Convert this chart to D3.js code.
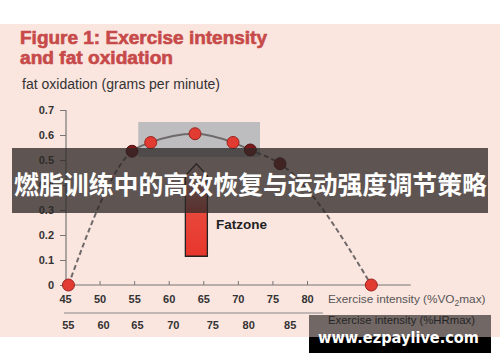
<!DOCTYPE html>
<html>
<head>
<meta charset="utf-8">
<script src="https://cdn.jsdelivr.net/npm/d3@7"></script>
<style>
  body { margin: 0; background: #fff; }
  svg { display: block; }
</style>
</head>
<body>
<svg width="500" height="362"></svg>
<script>
// values
const vo2 = [45.5, 54.7, 57.4, 63.8, 69.3, 71.8, 76.1, 89.3];
const fatOx = [0, 0.535, 0.57, 0.605, 0.57, 0.54, 0.485, 0];
const darkPoint = [false, true, false, false, false, true, true, false];
const yTicks = [0, 0.1, 0.2, 0.3, 0.4, 0.5, 0.6, 0.7];
const xTicks = [45, 50, 55, 60, 65, 70, 75, 80];
const hrTicks = [55, 60, 65, 70, 75, 80, 85];
const hrAsVo2 = [45.4, 50.5, 55.4, 60.6, 66.3, 71.5, 77.5];
const zoneVo2 = [55.6, 73.2];
const zoneFat = [0.512, 0.652];
const arrowVo2 = 64.0;
const arrowFat = [0.115, 0.485];

const svg = d3.select("svg");
const font = "'Liberation Sans', Arial, sans-serif";

const x = d3.scaleLinear().domain([45, 80]).range([65, 307]);
const y = d3.scaleLinear().domain([0, 0.7]).range([285, 110]);
const hr = d3.scaleLinear().domain(hrTicks).range(hrAsVo2.map(x));

// background
svg.append("rect").attr("x", 0).attr("y", 24).attr("width", 500).attr("height", 313).attr("fill", "#fbe5df");

// title
svg.append("text").attr("x", 20).attr("y", 44).attr("font-family", font).attr("font-weight", "bold")
  .attr("font-size", 18).attr("fill", "#c64a49").attr("stroke", "#c64a49").attr("stroke-width", 0.6)
  .attr("textLength", 247).attr("lengthAdjust", "spacingAndGlyphs")
  .text("Figure 1: Exercise intensity");
svg.append("text").attr("x", 20).attr("y", 64).attr("font-family", font).attr("font-weight", "bold")
  .attr("font-size", 18).attr("fill", "#c64a49").attr("stroke", "#c64a49").attr("stroke-width", 0.6)
  .attr("textLength", 153).attr("lengthAdjust", "spacingAndGlyphs")
  .text("and fat oxidation");
svg.append("text").attr("x", 22).attr("y", 89).attr("font-family", font)
  .attr("font-size", 14).attr("fill", "#333").attr("textLength", 198).attr("lengthAdjust", "spacingAndGlyphs")
  .text("fat oxidation (grams per minute)");

// fat zone box
svg.append("rect")
  .attr("x", x(zoneVo2[0])).attr("y", y(zoneFat[1]))
  .attr("width", x(zoneVo2[1]) - x(zoneVo2[0])).attr("height", y(zoneFat[0]) - y(zoneFat[1]))
  .attr("fill", "#bdbcbf");

// y axis
const yAxis = svg.append("g").attr("transform", `translate(${x(45) + 1},0)`)
  .call(d3.axisLeft(y).tickValues(yTicks).tickSize(6).tickPadding(6)
    .tickFormat(d => d === 0 ? "0" : d3.format(".1f")(d)));
yAxis.select(".domain").remove();
yAxis.selectAll("line").attr("stroke", "#777");
yAxis.selectAll("text").attr("font-family", font).attr("font-weight", "bold").attr("font-size", 11).attr("fill", "#333");
svg.append("line").attr("x1", x(45) + 1).attr("x2", x(45) + 1).attr("y1", y(0.7)).attr("y2", y(0))
  .attr("stroke", "#777").attr("stroke-width", 1.2);

// x axis (VO2max)
const xAxis = svg.append("g").attr("transform", `translate(0,${y(0)})`)
  .call(d3.axisBottom(x).tickValues(xTicks).tickSize(-4).tickPadding(10));
xAxis.select(".domain").remove();
xAxis.selectAll("line").attr("stroke", "#777");
xAxis.selectAll("text").attr("font-family", font).attr("font-weight", "bold").attr("font-size", 11).attr("fill", "#333");
svg.append("line").attr("x1", x(45)).attr("x2", x(95)).attr("y1", y(0)).attr("y2", y(0))
  .attr("stroke", "#777").attr("stroke-width", 1.2);

const vo2Label = svg.append("text").attr("x", 328).attr("y", 303).attr("font-family", font)
  .attr("font-size", 11.8).attr("fill", "#555");
vo2Label.append("tspan").text("Exercise intensity (%VO");
vo2Label.append("tspan").attr("font-size", 8.5).attr("dy", 3).text("2");
vo2Label.append("tspan").attr("dy", -3).text("max)");

// second axis (HRmax)
svg.append("line").attr("x1", x(44.86)).attr("x2", x(82.3)).attr("y1", 313).attr("y2", 313)
  .attr("stroke", "#888").attr("stroke-width", 1.2);
const hrAxis = svg.append("g").attr("transform", "translate(0,313)")
  .call(d3.axisBottom(hr).tickValues(hrTicks).tickSize(0).tickPadding(8));
hrAxis.select(".domain").remove();
hrAxis.selectAll("text").attr("font-family", font).attr("font-weight", "bold").attr("font-size", 11).attr("fill", "#333");
svg.append("text").attr("x", 328).attr("y", 324).attr("font-family", font)
  .attr("font-size", 11.8).attr("fill", "#555").attr("textLength", 147).attr("lengthAdjust", "spacingAndGlyphs")
  .text("Exercise intensity (%HRmax)");

// curve: dashed outside the zone, solid inside
const pts = vo2.map((v, i) => [x(v), y(fatOx[i])]);
const line = d3.line().curve(d3.curveMonotoneX);
const defs = svg.append("defs");
const solidX0 = x(vo2[1]), solidX1 = x(vo2[5]);
defs.append("clipPath").attr("id", "inner").append("rect")
  .attr("x", solidX0).attr("y", 0).attr("width", solidX1 - solidX0).attr("height", 362);
const outer = defs.append("clipPath").attr("id", "outer");
outer.append("rect").attr("x", 0).attr("y", 0).attr("width", solidX0).attr("height", 362);
outer.append("rect").attr("x", solidX1).attr("y", 0).attr("width", 500 - solidX1).attr("height", 362);

svg.append("path").attr("d", line(pts)).attr("fill", "none").attr("stroke", "#6f6a6a")
  .attr("stroke-width", 2).attr("stroke-dasharray", "5,3").attr("clip-path", "url(#outer)");
svg.append("path").attr("d", line(pts)).attr("fill", "none").attr("stroke", "#6f6a6a")
  .attr("stroke-width", 2).attr("clip-path", "url(#inner)");

// fatzone arrow
const grad = defs.append("linearGradient").attr("id", "arrowGrad")
  .attr("x1", 0).attr("y1", 1).attr("x2", 0).attr("y2", 0);
grad.append("stop").attr("offset", "0%").attr("stop-color", "#e8362c");
grad.append("stop").attr("offset", "45%").attr("stop-color", "#e8463a");
grad.append("stop").attr("offset", "100%").attr("stop-color", "#fbe5df");
const ax = x(arrowVo2), hw = 11, headH = 12;
const yb = y(arrowFat[0]), yt = y(arrowFat[1]);
svg.append("path")
  .attr("d", `M${ax},${yt} L${ax + hw},${yt + headH} L${ax + hw},${yb} L${ax - hw},${yb} L${ax - hw},${yt + headH} Z`)
  .attr("fill", "url(#arrowGrad)").attr("stroke", "#222").attr("stroke-width", 1.3);
svg.append("text").attr("x", 216).attr("y", 229).attr("font-family", font).attr("font-weight", "bold")
  .attr("font-size", 13.5).attr("fill", "#222").text("Fatzone");

// points
svg.append("g").selectAll("circle").data(vo2).join("circle")
  .attr("cx", d => x(d)).attr("cy", (d, i) => y(fatOx[i])).attr("r", 6)
  .attr("fill", (d, i) => darkPoint[i] ? "#7d1719" : "#e23b32")
  .attr("stroke", (d, i) => darkPoint[i] ? "#4d0d0e" : "#9a2420").attr("stroke-width", 1);

// banner overlay
svg.append("rect").attr("x", 12).attr("y", 148).attr("width", 476).attr("height", 65)
  .attr("fill", "rgba(45,40,38,0.76)");
svg.append("text").attr("x", 14).attr("y", 194).attr("font-family", "'Noto Sans CJK SC', sans-serif")
  .attr("font-weight", "bold").attr("font-size", 25).attr("fill", "#fff")
  .attr("textLength", 473).attr("lengthAdjust", "spacingAndGlyphs")
  .text("燃脂训练中的高效恢复与运动强度调节策略");

// watermark box
svg.append("rect").attr("x", 309).attr("y", 315).attr("width", 182).attr("height", 22).attr("fill", "rgba(0,0,0,0.55)");
svg.append("rect").attr("x", 309).attr("y", 337).attr("width", 182).attr("height", 16).attr("fill", "#000");
svg.append("text").attr("x", 318).attr("y", 343).attr("font-family", "'DejaVu Sans', sans-serif")
  .attr("font-weight", "bold").attr("font-size", 15).attr("fill", "#fff")
  .attr("textLength", 161).attr("lengthAdjust", "spacingAndGlyphs")
  .text("www.ezpaylive.com");
</script>
</body>
</html>
